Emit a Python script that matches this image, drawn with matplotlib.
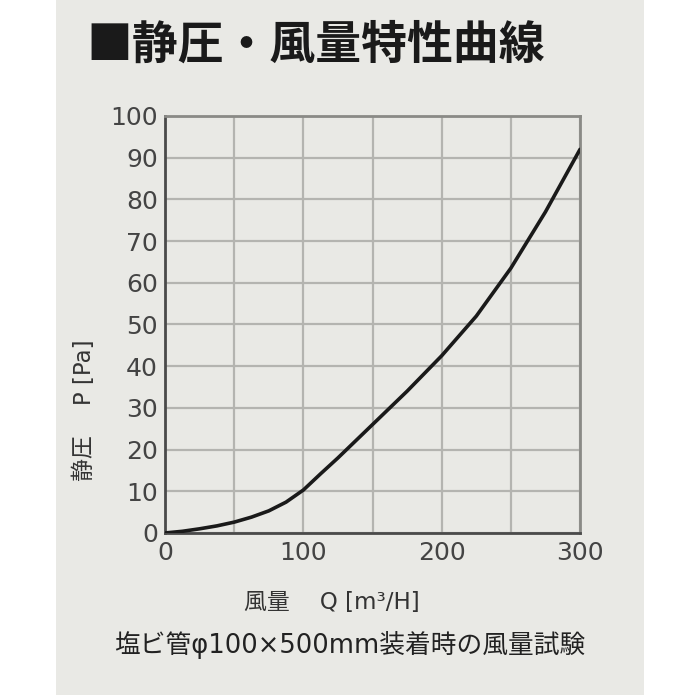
import numpy as np
import matplotlib
matplotlib.use('Agg')
import matplotlib.pyplot as plt
from matplotlib.patches import Rectangle

plt.rcParams['font.family'] = ['Noto Sans CJK JP', 'DejaVu Sans']

# air volume Q [m3/H] and static pressure P [Pa]
flow = [0, 12.5, 25, 37.5, 50, 62.5, 75, 87.5, 100, 112.5, 125, 150, 175, 200, 225, 250, 275, 300]
pressure = [0, 0.4, 1.0, 1.7, 2.6, 3.8, 5.3, 7.4, 10.3, 14.2, 18, 26, 34, 42.5, 52, 63.5, 77, 92]

x_ticks = [0, 100, 200, 300]
y_ticks = list(range(0, 101, 10))

title = '■静圧・風量特性曲線'
xlab = '風量　 Q [m³/H]'
ylab = '静圧　 P [Pa]'
note = '塩ビ管φ100×500mm装着時の風量試験'

bg = '#e9e9e5'
latin_first = ['DejaVu Sans', 'Noto Sans CJK JP']

fig = plt.figure(figsize=(7, 7), dpi=100)
fig.patch.set_facecolor('white')
panel = Rectangle((0.08, 0.007), 0.84, 0.993, transform=fig.transFigure,
                  facecolor=bg, edgecolor='none', zorder=-10)
fig.patches.append(panel)

ax = fig.add_axes([0.2357, 0.2386, 0.5929, 0.5957])
ax.set_zorder(1)
ax.set_facecolor(bg)
ax.plot(flow, pressure, color='#1a1a1a', lw=2.6, solid_capstyle='round',
        solid_joinstyle='round', zorder=3)

ax.set_xlim(0, 300)
ax.set_ylim(0, 100)
ax.set_xticks(x_ticks)
ax.set_xticks(np.arange(0, 301, 50), minor=True)
ax.set_yticks(y_ticks)
ax.grid(True, which='both', color='#b4b4b0', lw=1.6, zorder=1)
ax.tick_params(which='both', length=0)
ax.tick_params(axis='x', pad=6, labelsize=18, labelcolor='#444444')
ax.tick_params(axis='y', pad=5, labelsize=18, labelcolor='#444444')
for lbl in ax.get_xticklabels() + ax.get_yticklabels():
    lbl.set_family('DejaVu Sans')

for s in ['left', 'bottom']:
    ax.spines[s].set_color('#4a4a4a')
    ax.spines[s].set_linewidth(2)
for s in ['top', 'right']:
    ax.spines[s].set_color('#8a8a86')
    ax.spines[s].set_linewidth(2)

fig.text(0.123, 0.935, title, fontsize=33, fontweight='bold', color='#1a1a1a',
         va='center', ha='left')
fig.text(0.474, 0.139, xlab, fontsize=16.5, color='#333333', ha='center', va='center',
         family=latin_first)
fig.text(0.121, 0.414, ylab, fontsize=16.5, color='#333333', ha='center', va='center',
         rotation=90, family=latin_first)
fig.text(0.5, 0.079, note, fontsize=18.5, color='#222222', ha='center', va='center',
         family=latin_first)

fig.savefig('out.png', dpi=100, facecolor='white')
